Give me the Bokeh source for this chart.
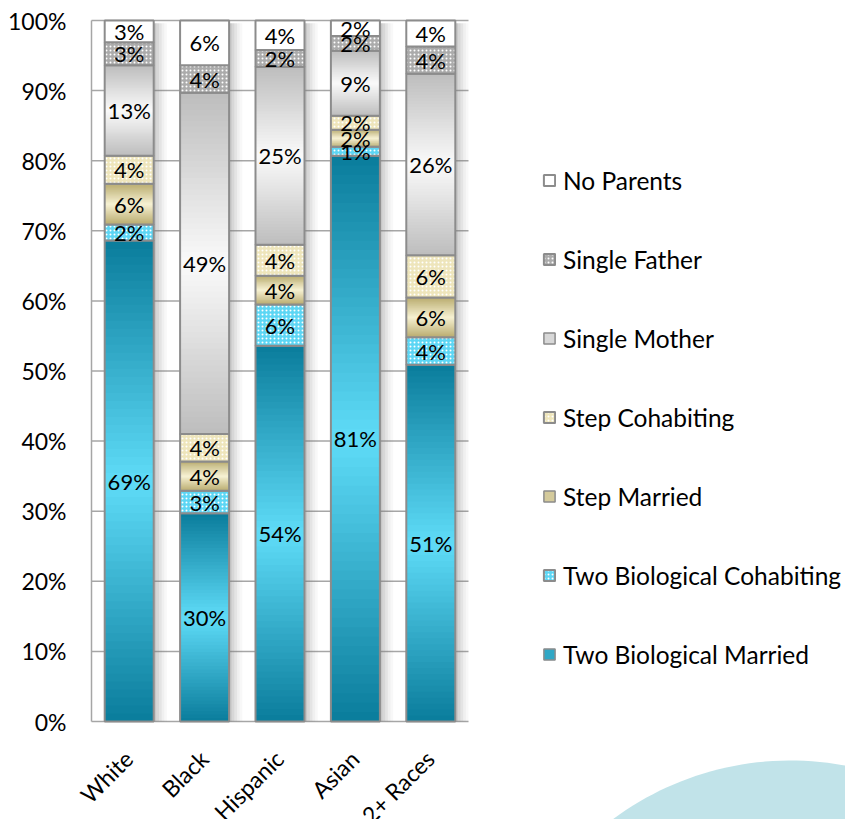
import numpy as np
from bokeh.plotting import figure
from bokeh.models import (ColumnDataSource, Range1d, FixedTicker, PrintfTickFormatter,
                          Legend, LegendItem, PolyAnnotation)
from bokeh.embed import file_html
from bokeh.resources import INLINE
from bokeh.core.properties import value

# ---------------- data ----------------
categories = ["White", "Black", "Hispanic", "Asian", "2+ Races"]
series_names = ["Two Biological Married", "Two Biological Cohabiting", "Step Married",
                "Step Cohabiting", "Single Mother", "Single Father", "No Parents"]
two_bio_married = [68.6, 29.7, 53.6, 80.7, 50.9]
two_bio_cohabiting = [2.3, 3.2, 5.9, 1.3, 3.9]
step_married = [5.8, 4.2, 4.1, 2.4, 5.7]
step_cohabiting = [4.0, 3.9, 4.4, 2.0, 6.0]
single_mother = [12.9, 48.7, 25.4, 9.3, 25.9]
single_father = [3.3, 3.9, 2.4, 2.1, 3.9]
no_parents = [3.1, 6.4, 4.2, 2.2, 3.7]
y_ticks = [0, 10, 20, 30, 40, 50, 60, 70, 80, 90, 100]

series_values = [two_bio_married, two_bio_cohabiting, step_married, step_cohabiting,
                 single_mother, single_father, no_parents]

# ---------------- styles / layout ----------------
FONT = "Lato"
OUTLINE = "#8c8c8c"
GRID = "#a6a6a6"
styles = {
    "Two Biological Married": dict(kind="grad", mid="#5fdcf8", end="#0a7c9b"),
    "Two Biological Cohabiting": dict(kind="hatch", fill="#5cd6f4"),
    "Step Married": dict(kind="grad", mid="#f6f1d2", end="#b9ab6e"),
    "Step Cohabiting": dict(kind="hatch", fill="#eee5bb"),
    "Single Mother": dict(kind="grad", mid="#fafafa", end="#bdbdbd"),
    "Single Father": dict(kind="hatch", fill="#ababab"),
    "No Parents": dict(kind="solid", fill="#ffffff"),
}
BAR_W = 0.65
N_BANDS = 60

W, H = 845, 819            # canvas size
AX_X, AX_TOP = 91, 20      # bar area's left edge / top in canvas px
PLOT_W, PLOT_H = 377, 701  # size of the bar-chart area in px
ncat = len(categories)
px_per_x = PLOT_W / ncat
px_per_y = PLOT_H / 100.0
x0_bars = -0.5
x_start = x0_bars - AX_X / px_per_x
x_end = x_start + W / px_per_x
y_end = 100.0 + AX_TOP / px_per_y
y_start = y_end - H / px_per_y


def hex2rgb(h):
    h = h.lstrip("#")
    return np.array([int(h[i:i + 2], 16) for i in (0, 2, 4)], dtype=float)


def lerp(c1, c2, t):
    c = hex2rgb(c1) * (1 - t) + hex2rgb(c2) * t
    return "#%02x%02x%02x" % tuple(int(round(v)) for v in c)


p = figure(width=W, height=H, output_backend="svg", toolbar_location=None,
           x_range=Range1d(x_start, x_end), y_range=Range1d(y_start, y_end),
           min_border_left=0, min_border_right=0, min_border_top=0, min_border_bottom=0)
p.outline_line_color = None
p.background_fill_color = "white"
p.border_fill_color = "white"

# background decorative circle (canvas coordinates)
theta = np.linspace(0, 2 * np.pi, 240)
cx, cy, r = 790, 1058, 298
p.add_layout(PolyAnnotation(xs=list(cx + r * np.cos(theta)), ys=list(cy + r * np.sin(theta)),
                            xs_units="canvas", ys_units="canvas",
                            fill_color="#c1e3e9", fill_alpha=1.0, line_color=None,
                            level="underlay"))

xs = np.arange(ncat)
totals = np.sum(np.array(series_values), axis=0)

# horizontal grid lines over the bar area only
p.segment(x0=[x0_bars] * len(y_ticks), x1=[ncat - 0.5] * len(y_ticks), y0=y_ticks, y1=y_ticks,
          line_color=GRID, line_width=1.5)

# shadows
shadow_alphas = [0.42, 0.3, 0.2, 0.11, 0.05]
sw = 0.035
for k, a in enumerate(shadow_alphas):
    p.quad(left=xs + BAR_W / 2 + k * sw, right=xs + BAR_W / 2 + (k + 1) * sw,
           bottom=np.zeros(ncat), top=totals - 0.4,
           fill_color="#7a7a7a", fill_alpha=a, line_color=None)

legend_renderers = {}
bottom = np.zeros(ncat)
label_x, label_y, label_t = [], [], []
for name, vals in zip(series_names, series_values):
    st = styles[name]
    vals = np.array(vals, dtype=float)
    top = bottom + vals
    if st["kind"] == "grad":
        L, R, B, T, C = [], [], [], [], []
        for i in range(ncat):
            edges = np.linspace(bottom[i], top[i], N_BANDS + 1)
            step = edges[1] - edges[0]
            for k in range(N_BANDS):
                u = (k + 0.5) / N_BANDS
                t = abs(2 * u - 1)
                L.append(xs[i] - BAR_W / 2)
                R.append(xs[i] + BAR_W / 2)
                B.append(edges[k])
                T.append(min(edges[k + 1] + step, top[i]))   # overlap to hide seams
                C.append(lerp(st["mid"], st["end"], t))
        src = ColumnDataSource(dict(left=L, right=R, bottom=B, top=T, color=C))
        p.quad(left="left", right="right", bottom="bottom", top="top", source=src,
               fill_color="color", line_color=None)
        p.quad(left=xs - BAR_W / 2, right=xs + BAR_W / 2, bottom=bottom, top=top,
               fill_color=None, line_color=OUTLINE, line_width=2)
        # legend swatch renderer (placed outside the visible range)
        legend_renderers[name] = p.quad(left=[x_start - 5], right=[x_start - 4.9], bottom=[0], top=[1],
                                        fill_color=lerp(st["mid"], st["end"], 0.55),
                                        line_color=OUTLINE, line_width=1.5)
    elif st["kind"] == "hatch":
        legend_renderers[name] = p.quad(left=xs - BAR_W / 2, right=xs + BAR_W / 2,
                                        bottom=bottom, top=top,
                                        fill_color=st["fill"], line_color=OUTLINE, line_width=2,
                                        hatch_pattern=".", hatch_color="white",
                                        hatch_scale=4, hatch_weight=1.8)
    else:
        legend_renderers[name] = p.quad(left=xs - BAR_W / 2, right=xs + BAR_W / 2,
                                        bottom=bottom, top=top,
                                        fill_color=st["fill"], line_color=OUTLINE, line_width=2)
    for i in range(ncat):
        label_x.append(xs[i])
        label_y.append((bottom[i] + top[i]) / 2)
        label_t.append("%d%%" % int(round(vals[i])))
    bottom = top

p.text(x=label_x, y=label_y, text=label_t, text_align="center", text_baseline="middle",
       text_font=value(FONT), text_font_size="22px", text_color="black")

# category labels, rotated, below the bars
cat_y = -33 / px_per_y
p.text(x=xs - 0.01, y=[cat_y] * ncat, text=categories, angle=np.pi / 4,
       text_align="right", text_baseline="middle",
       text_font=value(FONT), text_font_size="23px", text_color="black")

# axes
p.xaxis.visible = False
p.xgrid.visible = False
p.ygrid.visible = False
p.yaxis.fixed_location = x0_bars
p.yaxis.bounds = (0, 100)
p.yaxis.ticker = FixedTicker(ticks=y_ticks)
p.yaxis.formatter = PrintfTickFormatter(format="%d%%")
p.yaxis.axis_line_color = GRID
p.yaxis.axis_line_width = 1.5
p.yaxis.major_tick_line_color = None
p.yaxis.major_tick_out = 0
p.yaxis.major_tick_in = 0
p.yaxis.minor_tick_line_color = None
p.yaxis.major_label_standoff = 25
p.yaxis.major_label_text_font = FONT
p.yaxis.major_label_text_font_size = "23px"
p.yaxis.major_label_text_color = "black"

# legend (inside the frame, to the right of the bars)
items = [LegendItem(label=n, renderers=[legend_renderers[n]]) for n in reversed(series_names)]
legend = Legend(items=items, location=(542, 150), orientation="vertical",
                label_text_font=FONT, label_text_font_size="24.5px", label_text_color="black",
                glyph_width=14, glyph_height=14, label_height=30, label_standoff=7,
                spacing=49, padding=0, margin=0, border_line_color=None,
                background_fill_alpha=0)
p.add_layout(legend)

open("out.html", "w").write(file_html(p, INLINE))
